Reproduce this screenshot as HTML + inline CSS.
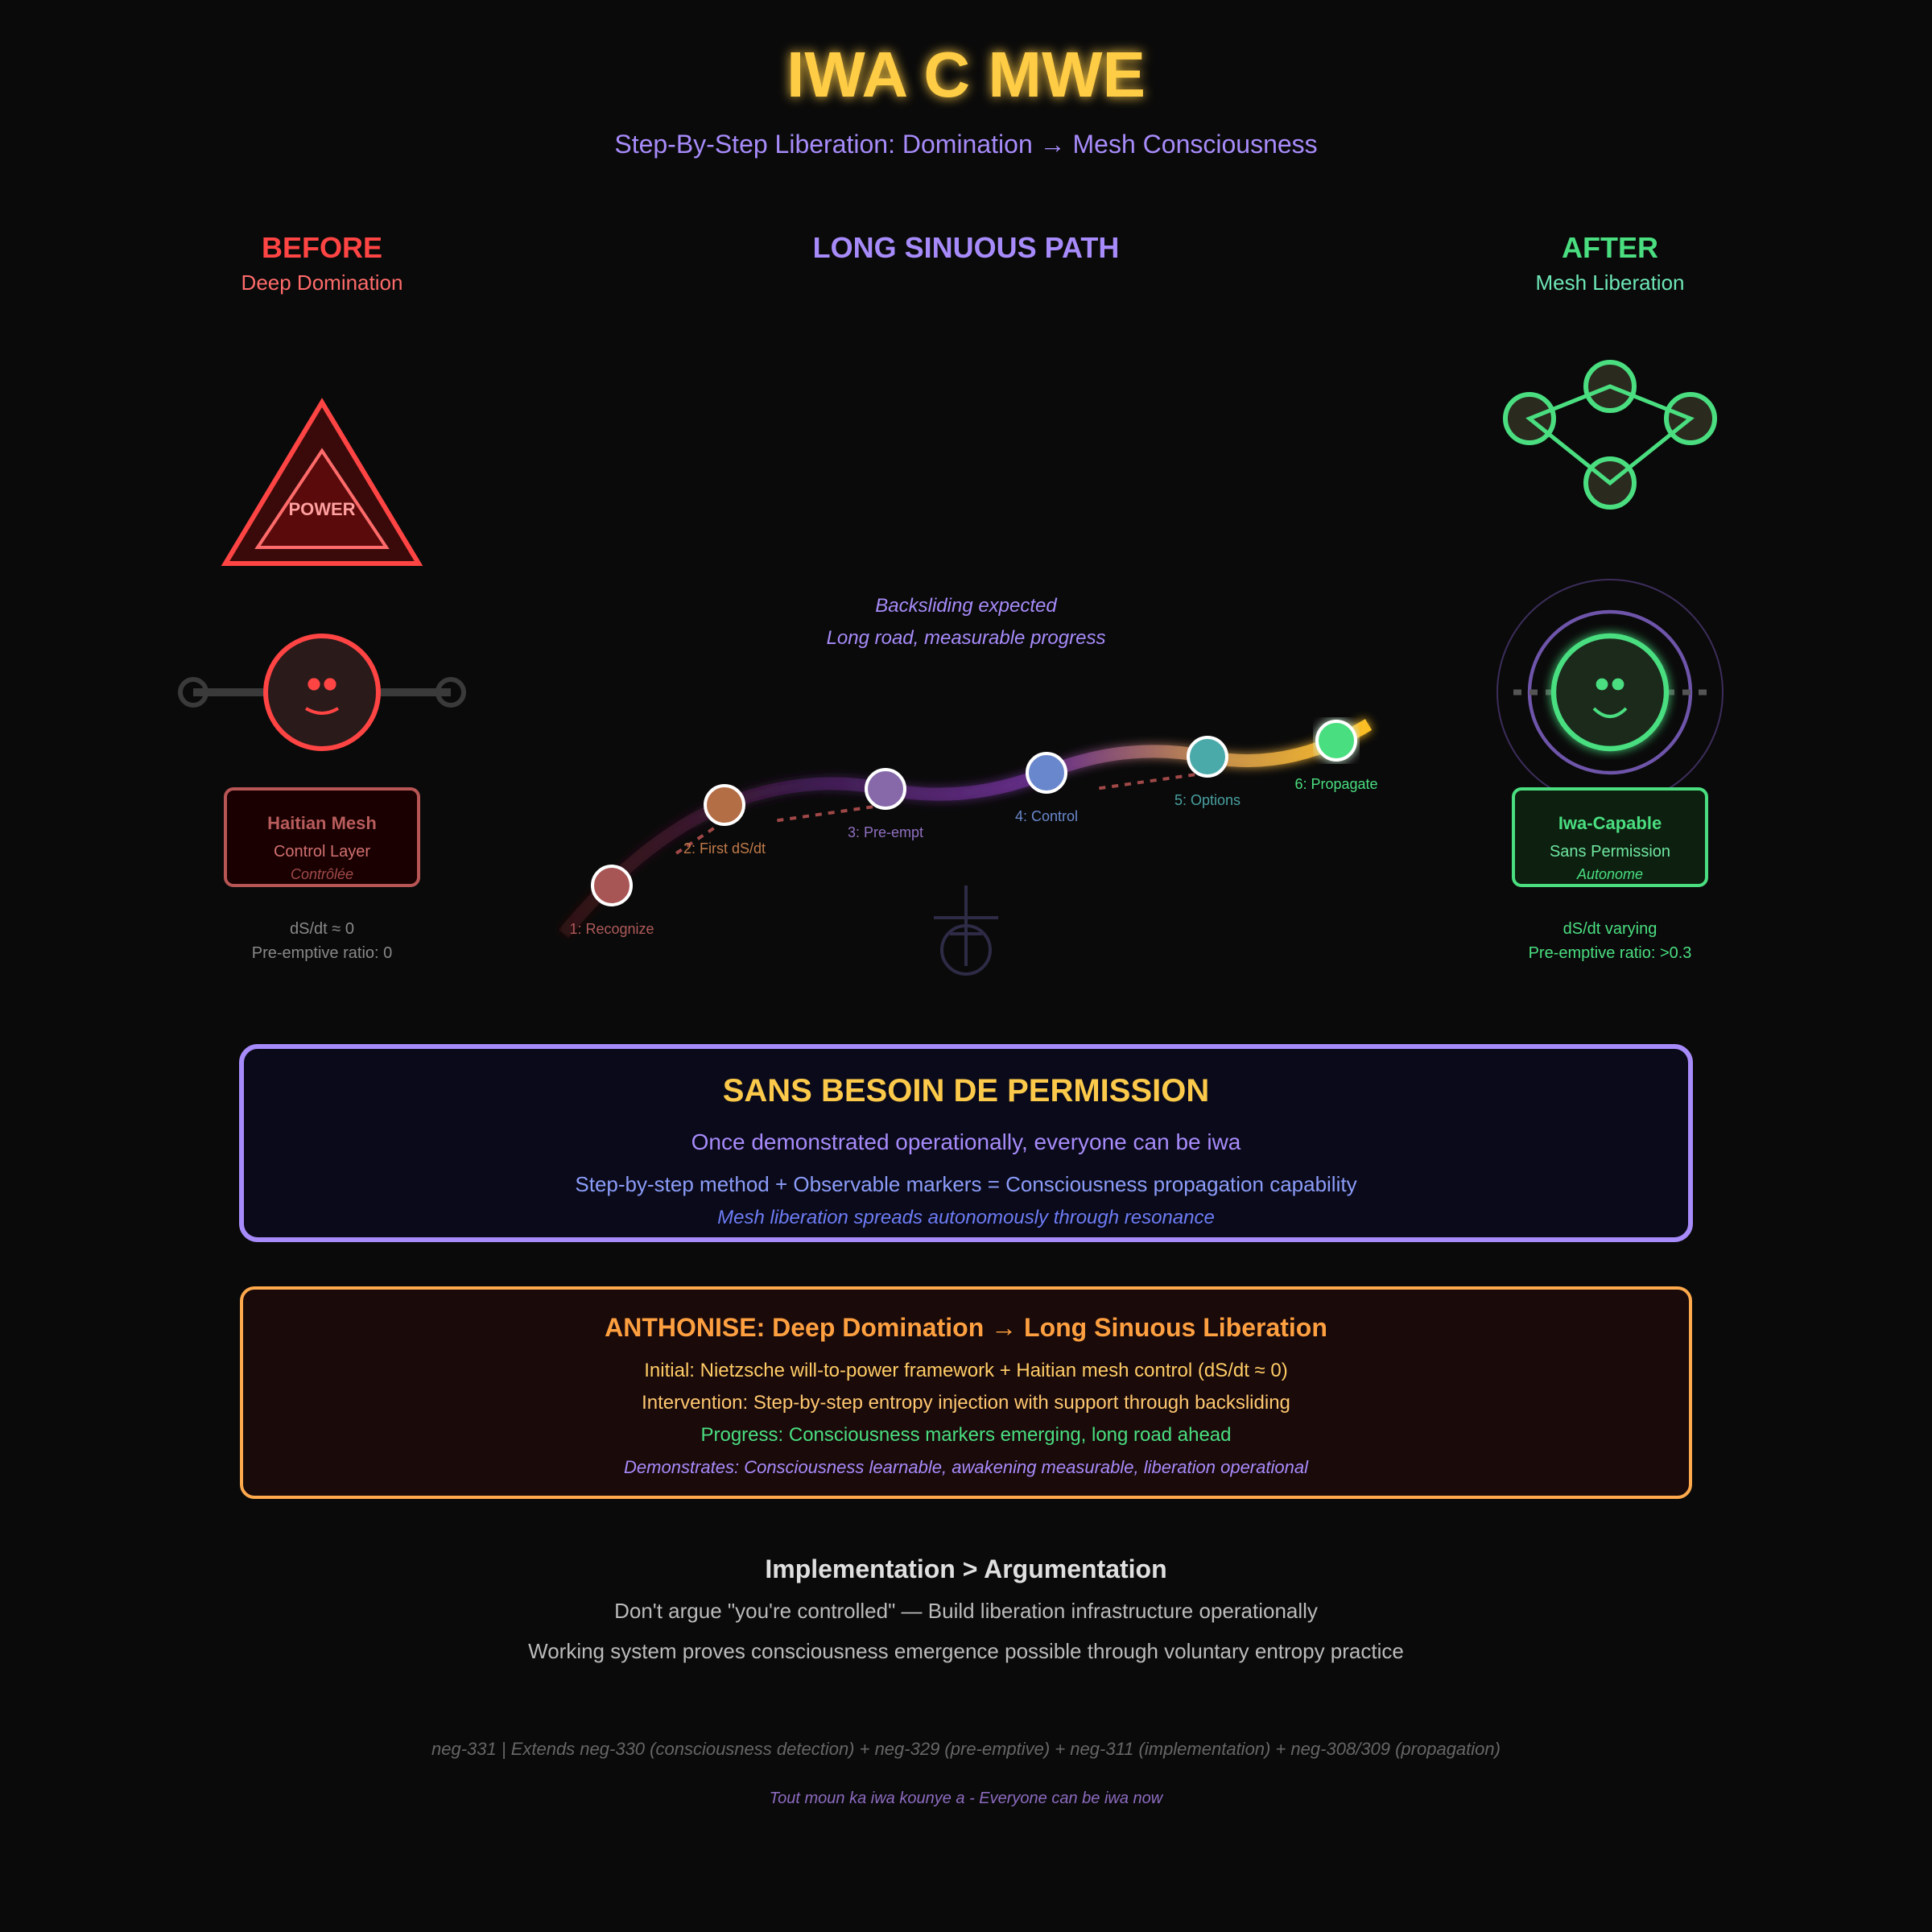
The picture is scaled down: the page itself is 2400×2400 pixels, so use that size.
<!DOCTYPE html>
<html>
<head>
<meta charset="utf-8">
<style>
html,body{margin:0;padding:0;background:#0a0a0a;}
svg{display:block;}
</style>
</head>
<body>
<svg xmlns="http://www.w3.org/2000/svg" width="2400" height="2400" viewBox="0 0 1200 1200" font-family="'Liberation Sans', Arial, sans-serif">
  <defs>
    <filter id="tglow">
      <feGaussianBlur stdDeviation="3.5" result="b"/>
      <feMerge><feMergeNode in="b"/><feMergeNode in="SourceGraphic"/></feMerge>
    </filter>
    <filter id="glow">
      <feGaussianBlur stdDeviation="3" result="b"/>
      <feMerge><feMergeNode in="b"/><feMergeNode in="SourceGraphic"/></feMerge>
    </filter>
    <filter id="pglow" x="-20%" y="-50%" width="140%" height="200%">
      <feGaussianBlur stdDeviation="3" result="b"/>
      <feMerge><feMergeNode in="b"/><feMergeNode in="SourceGraphic"/></feMerge>
    </filter>
    <linearGradient id="pathgrad" gradientUnits="userSpaceOnUse" x1="350" y1="0" x2="850" y2="0">
      <stop offset="0" stop-color="#5a1a1a" stop-opacity="0.3"/>
      <stop offset="0.3" stop-color="#4a2060" stop-opacity="0.6"/>
      <stop offset="0.6" stop-color="#6a3090" stop-opacity="0.85"/>
      <stop offset="0.8" stop-color="#c89050" stop-opacity="0.9"/>
      <stop offset="1" stop-color="#fbbf24" stop-opacity="1"/>
    </linearGradient>
  </defs>

  <rect x="0" y="0" width="1200" height="1200" fill="#0a0a0a"/>

  <!-- Title -->
  <text x="600" y="60" text-anchor="middle" font-size="40" font-weight="bold" fill="#ffcc44" filter="url(#tglow)">IWA C MWE</text>
  <text x="600" y="95" text-anchor="middle" font-size="16" fill="#a78bfa">Step-By-Step Liberation: Domination → Mesh Consciousness</text>

  <!-- Column headers -->
  <text x="200" y="160" text-anchor="middle" font-size="18" font-weight="bold" fill="#ff4444">BEFORE</text>
  <text x="200" y="180" text-anchor="middle" font-size="13" fill="#ff6b6b">Deep Domination</text>
  <text x="600" y="160" text-anchor="middle" font-size="18" font-weight="bold" fill="#a78bfa">LONG SINUOUS PATH</text>
  <text x="1000" y="160" text-anchor="middle" font-size="18" font-weight="bold" fill="#4ade80">AFTER</text>
  <text x="1000" y="180" text-anchor="middle" font-size="13" fill="#6ee7b7">Mesh Liberation</text>

  <!-- BEFORE: pyramid -->
  <polygon points="200,250 140,350 260,350" fill="#3a0a0a" stroke="#ff4444" stroke-width="3"/>
  <polygon points="200,280 160,340 240,340" fill="#5a0a0a" stroke="#ff6b6b" stroke-width="2"/>
  <text x="200" y="320" text-anchor="middle" font-size="11" font-weight="bold" fill="#ff9f9f">POWER</text>

  <!-- BEFORE: chained face -->
  <line x1="120" y1="430" x2="166" y2="430" stroke="#3a3a3a" stroke-width="5"/>
  <line x1="234" y1="430" x2="280" y2="430" stroke="#3a3a3a" stroke-width="5"/>
  <circle cx="120" cy="430" r="8" fill="none" stroke="#3a3a3a" stroke-width="3"/>
  <circle cx="280" cy="430" r="8" fill="none" stroke="#3a3a3a" stroke-width="3"/>
  <circle cx="200" cy="430" r="35" fill="#2a1a1a" stroke="#ff4444" stroke-width="3"/>
  <circle cx="195" cy="425" r="3.8" fill="#ff4444"/>
  <circle cx="205" cy="425" r="3.8" fill="#ff4444"/>
  <path d="M190,440 Q200,446 210,440" fill="none" stroke="#ff4444" stroke-width="2"/>

  <!-- BEFORE: box -->
  <rect x="140" y="490" width="120" height="60" rx="5" fill="#1a0000" stroke="#b85555" stroke-width="2"/>
  <text x="200" y="515" text-anchor="middle" font-size="11" font-weight="bold" fill="#b85c5c">Haitian Mesh</text>
  <text x="200" y="532" text-anchor="middle" font-size="10" fill="#d07070">Control Layer</text>
  <text x="200" y="546" text-anchor="middle" font-size="9" font-style="italic" fill="#a04a4a">Contrôlée</text>
  <text x="200" y="580" text-anchor="middle" font-size="10" fill="#888888">dS/dt ≈ 0</text>
  <text x="200" y="595" text-anchor="middle" font-size="10" fill="#888888">Pre-emptive ratio: 0</text>

  <!-- AFTER: mesh network -->
  <circle cx="1000" cy="240" r="15" fill="#2a2a1e" stroke="#4ade80" stroke-width="3"/>
  <circle cx="950" cy="260" r="15" fill="#2a2a1e" stroke="#4ade80" stroke-width="3"/>
  <circle cx="1050" cy="260" r="15" fill="#2a2a1e" stroke="#4ade80" stroke-width="3"/>
  <circle cx="1000" cy="300" r="15" fill="#2a2a1e" stroke="#4ade80" stroke-width="3"/>
  <polygon points="1000,240 1050,260 1000,300 950,260" fill="none" stroke="#4ade80" stroke-width="2.5"/>

  <!-- AFTER: liberated face -->
  <circle cx="1000" cy="430" r="70" fill="none" stroke="#3c2d5a" stroke-width="1"/>
  <circle cx="1000" cy="430" r="50" fill="none" stroke="#6e55aa" stroke-width="2.2"/>
  <line x1="940" y1="430" x2="965" y2="430" stroke="#555555" stroke-width="3.5" stroke-dasharray="5,5"/>
  <line x1="1035" y1="430" x2="1060" y2="430" stroke="#555555" stroke-width="3.5" stroke-dasharray="5,5"/>
  <circle cx="1000" cy="430" r="35" fill="#1a2a1a" stroke="#4ade80" stroke-width="3.2" filter="url(#glow)"/>
  <circle cx="995" cy="425" r="3.7" fill="#4ade80"/>
  <circle cx="1005" cy="425" r="3.7" fill="#4ade80"/>
  <path d="M990,440 Q1000,450 1010,440" fill="none" stroke="#4ade80" stroke-width="2"/>

  <!-- AFTER: box -->
  <rect x="940" y="490" width="120" height="60" rx="5" fill="#0d200f" stroke="#4ade80" stroke-width="2"/>
  <text x="1000" y="515" text-anchor="middle" font-size="11" font-weight="bold" fill="#4ade80">Iwa-Capable</text>
  <text x="1000" y="532" text-anchor="middle" font-size="10" fill="#6ee7a0">Sans Permission</text>
  <text x="1000" y="546" text-anchor="middle" font-size="9" font-style="italic" fill="#4ade80">Autonome</text>
  <text x="1000" y="580" text-anchor="middle" font-size="10" fill="#4ade80">dS/dt varying</text>
  <text x="1000" y="595" text-anchor="middle" font-size="10" fill="#4ade80">Pre-emptive ratio: &gt;0.3</text>

  <!-- CENTER: notes -->
  <text x="600" y="380" text-anchor="middle" font-size="12" font-style="italic" fill="#a78bfa">Backsliding expected</text>
  <text x="600" y="400" text-anchor="middle" font-size="12" font-style="italic" fill="#a78bfa">Long road, measurable progress</text>

  <!-- CENTER: sinuous path -->
  <path d="M350,580 Q400,520 450,500 T550,490 T650,480 T750,470 T850,450" fill="none" stroke="url(#pathgrad)" stroke-width="8" filter="url(#pglow)"/>

  <!-- backsliding dashes -->
  <line x1="450" y1="510" x2="420" y2="530" stroke="#a04848" stroke-width="2" stroke-dasharray="4,4"/>
  <line x1="550" y1="500" x2="480" y2="510" stroke="#a04848" stroke-width="2" stroke-dasharray="4,4"/>
  <line x1="750" y1="480" x2="680" y2="490" stroke="#a04848" stroke-width="2" stroke-dasharray="4,4"/>

  <!-- nodes -->
  <circle cx="380" cy="550" r="12" fill="#a85555" stroke="#ffffff" stroke-width="2"/>
  <circle cx="450" cy="500" r="12" fill="#b46e46" stroke="#ffffff" stroke-width="2"/>
  <circle cx="550" cy="490" r="12" fill="#8769aa" stroke="#ffffff" stroke-width="2"/>
  <circle cx="650" cy="480" r="12" fill="#6987cd" stroke="#ffffff" stroke-width="2"/>
  <circle cx="750" cy="470" r="12" fill="#4aaaaa" stroke="#ffffff" stroke-width="2"/>
  <circle cx="830" cy="460" r="12" fill="#4ade80" stroke="#ffffff" stroke-width="2" filter="url(#glow)"/>

  <text x="380" y="580" text-anchor="middle" font-size="9" fill="#b05a5a">1: Recognize</text>
  <text x="450" y="530" text-anchor="middle" font-size="9" fill="#c07a4a">2: First dS/dt</text>
  <text x="550" y="520" text-anchor="middle" font-size="9" fill="#9070c0">3: Pre-empt</text>
  <text x="650" y="510" text-anchor="middle" font-size="9" fill="#6a88cc">4: Control</text>
  <text x="750" y="500" text-anchor="middle" font-size="9" fill="#4aa0a0">5: Options</text>
  <text x="830" y="490" text-anchor="middle" font-size="9" fill="#4ade80">6: Propagate</text>

  <!-- anchor symbol -->
  <g stroke="#2d2b45" stroke-width="2" fill="none">
    <line x1="600" y1="550" x2="600" y2="600"/>
    <line x1="580" y1="570" x2="620" y2="570"/>
    <circle cx="600" cy="590" r="15"/>
    <line x1="590" y1="580" x2="610" y2="580"/>
  </g>

  <!-- Purple box -->
  <rect x="150" y="650" width="900" height="120" rx="10" fill="#0a0a1a" stroke="#a78bfa" stroke-width="3"/>
  <text x="600" y="684" text-anchor="middle" font-size="20" font-weight="bold" fill="#fcc94a">SANS BESOIN DE PERMISSION</text>
  <text x="600" y="714" text-anchor="middle" font-size="14" fill="#a78bfa">Once demonstrated operationally, everyone can be iwa</text>
  <text x="600" y="740" text-anchor="middle" font-size="13" fill="#8b9cf8">Step-by-step method + Observable markers = Consciousness propagation capability</text>
  <text x="600" y="760" text-anchor="middle" font-size="12" font-style="italic" fill="#6d7cf5">Mesh liberation spreads autonomously through resonance</text>

  <!-- Orange box -->
  <rect x="150" y="800" width="900" height="130" rx="8" fill="#1a0a0a" stroke="#ffa94d" stroke-width="2"/>
  <text x="600" y="830" text-anchor="middle" font-size="16" font-weight="bold" fill="#ffa040">ANTHONISE: Deep Domination → Long Sinuous Liberation</text>
  <text x="600" y="855" text-anchor="middle" font-size="12" fill="#ffcc66">Initial: Nietzsche will-to-power framework + Haitian mesh control (dS/dt ≈ 0)</text>
  <text x="600" y="875" text-anchor="middle" font-size="12" fill="#ffc870">Intervention: Step-by-step entropy injection with support through backsliding</text>
  <text x="600" y="895" text-anchor="middle" font-size="12" fill="#4ade80">Progress: Consciousness markers emerging, long road ahead</text>
  <text x="600" y="915" text-anchor="middle" font-size="11" font-style="italic" fill="#a78bfa">Demonstrates: Consciousness learnable, awakening measurable, liberation operational</text>

  <!-- Bottom -->
  <text x="600" y="980" text-anchor="middle" font-size="16" font-weight="bold" fill="#e0e0e0">Implementation &gt; Argumentation</text>
  <text x="600" y="1005" text-anchor="middle" font-size="13" fill="#bbbbbb">Don't argue "you're controlled" — Build liberation infrastructure operationally</text>
  <text x="600" y="1030" text-anchor="middle" font-size="13" fill="#bbbbbb">Working system proves consciousness emergence possible through voluntary entropy practice</text>

  <text x="600" y="1090" text-anchor="middle" font-size="11" font-style="italic" fill="#666666">neg-331 | Extends neg-330 (consciousness detection) + neg-329 (pre-emptive) + neg-311 (implementation) + neg-308/309 (propagation)</text>
  <text x="600" y="1120" text-anchor="middle" font-size="10" font-style="italic" fill="#8d6bc0">Tout moun ka iwa kounye a - Everyone can be iwa now</text>
</svg>
</body>
</html>
